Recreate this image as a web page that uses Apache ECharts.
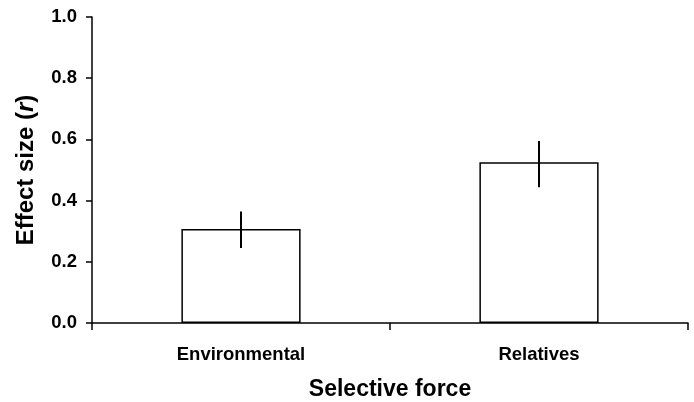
<!DOCTYPE html>
<html>
<head>
<meta charset="utf-8">
<script src="https://cdn.jsdelivr.net/npm/echarts@6/dist/echarts.min.js"></script>
<style>html,body{margin:0;padding:0;background:#fff}#c{width:694px;height:402px}</style>
</head>
<body>
<div id="c"></div>
<script>
var categories = ['Environmental', 'Relatives'];
var values = [0.307, 0.525];
var errLow = [0.245, 0.444];
var errHigh = [0.364, 0.595];
var yTicks = [0, 0.2, 0.4, 0.6, 0.8, 1.0];

var FONT = '"Liberation Sans", Arial, Helvetica, sans-serif';
var chart = echarts.init(document.getElementById('c'));
chart.setOption({
  animation: false,
  backgroundColor: '#fff',
  grid: {left: 92, right: 6, top: 17, bottom: 79, containLabel: false, outerBoundsMode: 'none'},
  xAxis: {
    type: 'category',
    data: categories,
    name: 'Selective force',
    nameLocation: 'middle',
    nameGap: 55,
    nameTextStyle: {fontFamily: FONT, fontWeight: 'bold', fontSize: 23, color: '#000', verticalAlign: 'top'},
    axisLine: {lineStyle: {color: '#000', width: 1.5}},
    axisTick: {show: true, length: 7, lineStyle: {color: '#000', width: 1.5}},
    axisLabel: {fontFamily: FONT, fontWeight: 'bold', fontSize: 18.5, color: '#000', margin: 22}
  },
  yAxis: {
    type: 'value',
    min: yTicks[0],
    max: yTicks[yTicks.length - 1],
    interval: 0.2,
    name: '{b|Effect size (}{i|r}{b|)}',
    nameLocation: 'middle',
    nameRotate: 90,
    nameGap: 54,
    nameTextStyle: {
      rich: {
        b: {fontFamily: FONT, fontWeight: 'bold', fontSize: 24, color: '#000'},
        i: {fontFamily: FONT, fontWeight: 'bold', fontStyle: 'italic', fontSize: 24, color: '#000'}
      }
    },
    splitLine: {show: false},
    axisLine: {show: true, lineStyle: {color: '#000', width: 1.5}},
    axisTick: {show: true, length: 6, lineStyle: {color: '#000', width: 1.5}},
    axisLabel: {
      fontFamily: FONT, fontWeight: 'bold', fontSize: 18.5, color: '#000', margin: 15,
      formatter: function (v) { return v.toFixed(1); }
    }
  },
  series: [
    {
      type: 'bar',
      data: values,
      barWidth: '40%',
      itemStyle: {color: '#fff', borderColor: '#000', borderWidth: 1.5}
    },
    {
      type: 'custom',
      data: categories.map(function (c, i) { return [i, errLow[i], errHigh[i]]; }),
      renderItem: function (params, api) {
        var lo = api.coord([api.value(0), api.value(1)]);
        var hi = api.coord([api.value(0), api.value(2)]);
        return {
          type: 'line',
          shape: {x1: lo[0], y1: lo[1], x2: hi[0], y2: hi[1]},
          style: {stroke: '#000', lineWidth: 2}
        };
      },
      z: 10
    }
  ]
});
</script>
</body>
</html>
